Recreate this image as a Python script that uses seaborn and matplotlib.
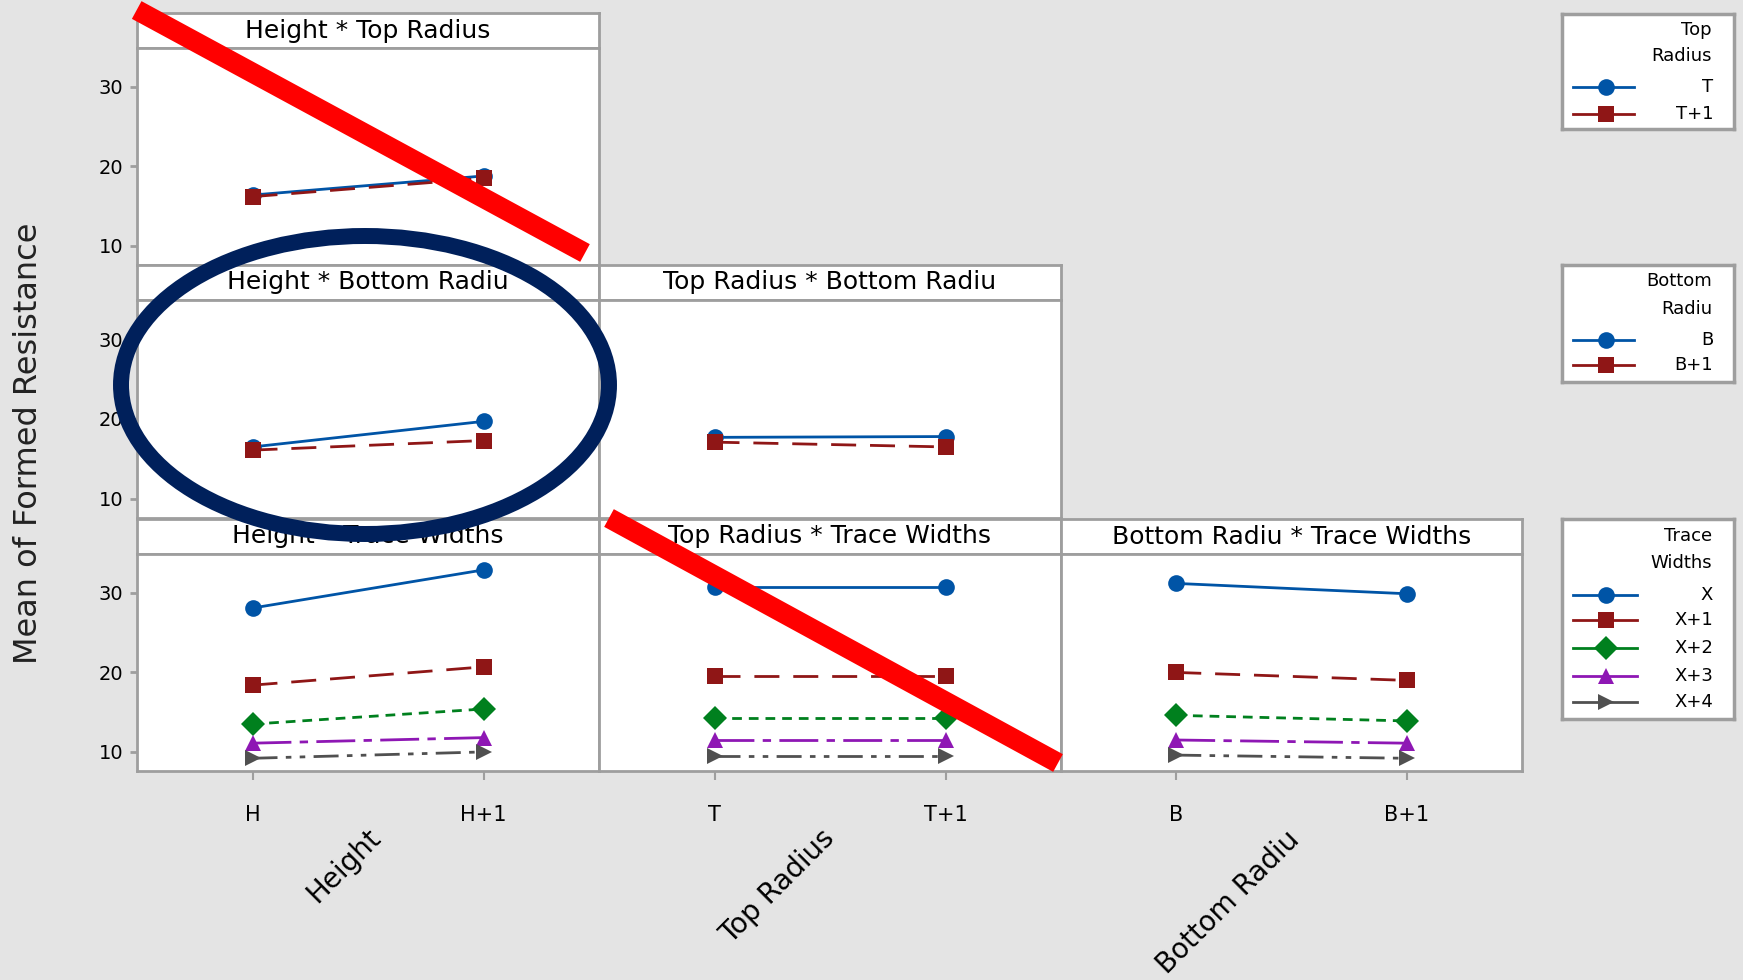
# Minitab-style interaction plot matrix, redrawn with seaborn
import pandas as pd
import seaborn as sns
import matplotlib.pyplot as plt
from matplotlib.lines import Line2D
from matplotlib.patches import Ellipse

W, H = 1743, 980
BG = "#e4e4e4"
FRAME = "#9e9e9e"

# factor levels
height_levels = ["H", "H+1"]
top_levels = ["T", "T+1"]
bottom_levels = ["B", "B+1"]
top_series = ["T", "T+1"]
bottom_series = ["B", "B+1"]
trace_series = ["X", "X+1", "X+2", "X+3", "X+4"]

# Height * Top Radius
height_top_T = [16.4, 18.8]
height_top_T1 = [16.2, 18.5]
# Height * Bottom Radiu
height_bottom_B = [16.5, 19.7]
height_bottom_B1 = [16.1, 17.3]
# Top Radius * Bottom Radiu
top_bottom_B = [17.7, 17.8]
top_bottom_B1 = [17.1, 16.5]
# ... * Trace Widths, one row per trace width (X .. X+4)
height_trace = [[28.1, 32.9], [18.4, 20.7], [13.5, 15.4], [11.1, 11.8], [9.2, 10.0]]
top_trace = [[30.7, 30.7], [19.5, 19.5], [14.3, 14.3], [11.5, 11.5], [9.5, 9.5]]
bottom_trace = [[31.2, 29.9], [20.0, 19.0], [14.6, 13.9], [11.5, 11.1], [9.6, 9.2]]

y_ticks = [10, 20, 30]

# series styling (Minitab defaults)
colors = ["#0054a6", "#8f1616", "#00801e", "#8e17b4", "#505050"]
markers = ["o", "s", "D", "^", ">"]
dashes = ["", (9, 5), (3.5, 2.5), (14, 3, 3, 3), (9, 3, 2, 3, 2, 3)]


def long_frame(levels, names, values):
    rows = []
    for name, vals in zip(names, values):
        for lev, v in zip(levels, vals):
            rows.append({"level": lev, "series": name, "value": v})
    return pd.DataFrame(rows)


def px_axes(fig, x0, y0, x1, y1):
    # axes from pixel box (y measured from the top)
    return fig.add_axes([x0 / W, 1 - y1 / H, (x1 - x0) / W, (y1 - y0) / H])


def frame(ax):
    for s in ax.spines.values():
        s.set_color(FRAME)
        s.set_linewidth(2)


def draw_panel(fig, box, title, levels, names, values, left=False, bottom=False):
    x0, ys, y0, x1, y1 = box
    # white title strip
    strip = px_axes(fig, x0, ys, x1, y0)
    strip.set_xticks([])
    strip.set_yticks([])
    frame(strip)
    strip.text(0.5, 0.5, title, ha="center", va="center", fontsize=18, color="black")

    ax = px_axes(fig, x0, y0, x1, y1)
    df = long_frame(levels, names, values)
    n = len(names)
    sns.lineplot(data=df, x="level", y="value", hue="series", style="series",
                 palette=dict(zip(names, colors[:n])),
                 markers=dict(zip(names, markers[:n])),
                 dashes=dict(zip(names, dashes[:n])),
                 markersize=12, linewidth=2, markeredgewidth=0,
                 sort=False, legend=False, ax=ax)
    ax.set_xlim(-0.5, 1.5)
    ax.set_ylim(7.6, 34.9)
    ax.set_xlabel("")
    ax.set_ylabel("")
    ax.set_facecolor("white")
    frame(ax)
    ax.set_yticks(y_ticks)
    ax.tick_params(axis="y", left=left, labelleft=left, length=5, width=2,
                   color=FRAME, pad=5, labelsize=14)
    ax.tick_params(axis="x", bottom=bottom, labelbottom=bottom, length=6.5, width=1.5,
                   color=FRAME, pad=18, labelsize=15)
    return ax


def draw_legend(fig, box, title_lines, title_y, names, entry_y, line_x1):
    x0, y0, x1, y1 = box
    ax = px_axes(fig, x0, y0, x1, y1)
    ax.set_xlim(x0, x1)
    ax.set_ylim(y1, y0)
    ax.set_xticks([])
    ax.set_yticks([])
    ax.set_facecolor("white")
    for s in ax.spines.values():
        s.set_color(FRAME)
        s.set_linewidth(2.5)
    for txt, ty in zip(title_lines, title_y):
        ax.text(1712, ty, txt, ha="right", va="center", fontsize=13)
    for i, (name, ey) in enumerate(zip(names, entry_y)):
        ax.plot([1573, line_x1], [ey, ey], color=colors[i], lw=2)
        ax.plot([1606], [ey], marker=markers[i], color=colors[i], ms=12, mew=0)
        ax.text(1713, ey, name, ha="right", va="center", fontsize=13)


def main():
    fig = plt.figure(figsize=(W / 100, H / 100), dpi=100, facecolor=BG)

    cols = [(137, 599), (599, 1061), (1061, 1522)]
    rows = [(13.5, 48, 265), (265, 300, 518), (519, 554, 771)]

    def box(r, c):
        return (cols[c][0], rows[r][0], rows[r][1], cols[c][1], rows[r][2])

    draw_panel(fig, box(0, 0), "Height * Top Radius", height_levels, top_series,
               [height_top_T, height_top_T1], left=True)
    draw_panel(fig, box(1, 0), "Height * Bottom Radiu", height_levels, bottom_series,
               [height_bottom_B, height_bottom_B1], left=True)
    draw_panel(fig, box(1, 1), "Top Radius * Bottom Radiu", top_levels, bottom_series,
               [top_bottom_B, top_bottom_B1])
    draw_panel(fig, box(2, 0), "Height * Trace Widths", height_levels, trace_series,
               height_trace, left=True, bottom=True)
    draw_panel(fig, box(2, 1), "Top Radius * Trace Widths", top_levels, trace_series,
               top_trace, bottom=True)
    draw_panel(fig, box(2, 2), "Bottom Radiu * Trace Widths", bottom_levels, trace_series,
               bottom_trace, bottom=True)

    # legends on the right
    draw_legend(fig, (1562, 14, 1734, 129), ["Top", "Radius"], [30, 56],
                top_series, [87, 114], 1634)
    draw_legend(fig, (1562, 265, 1734, 382), ["Bottom", "Radiu"], [281, 309],
                bottom_series, [340, 365], 1634)
    draw_legend(fig, (1562, 519, 1734, 719), ["Trace", "Widths"], [536, 563],
                trace_series, [595, 620, 648, 676, 702], 1637)

    # axis titles
    fig.text(29 / W, 1 - 443 / H, "Mean of Formed Resistance", rotation=90,
             ha="center", va="center", fontsize=23, color="#222222")
    for label, (cx, cy) in zip(["Height", "Top Radius", "Bottom Radiu"],
                               [(344, 866), (778, 887), (1228, 902)]):
        fig.text(cx / W, 1 - cy / H, label, rotation=45, rotation_mode="anchor",
                 ha="center", va="center", fontsize=20, color="black")

    # hand-drawn annotations on top of the chart
    fig.add_artist(Line2D([136.7 / W, 585 / W], [1 - 10 / H, 1 - 253 / H],
                          transform=fig.transFigure, color="#ff0000", lw=14.5,
                          solid_capstyle="butt"))
    fig.add_artist(Line2D([609 / W, 1058 / W], [1 - 518 / H, 1 - 763 / H],
                          transform=fig.transFigure, color="#ff0000", lw=14.5,
                          solid_capstyle="butt"))
    fig.add_artist(Ellipse((365 / W, 1 - 385 / H), 488 / W, 298 / H,
                           transform=fig.transFigure, fill=False,
                           edgecolor="#00205b", lw=11.5))

    fig.savefig("out.png", dpi=100, facecolor=BG)


if __name__ == "__main__":
    main()
